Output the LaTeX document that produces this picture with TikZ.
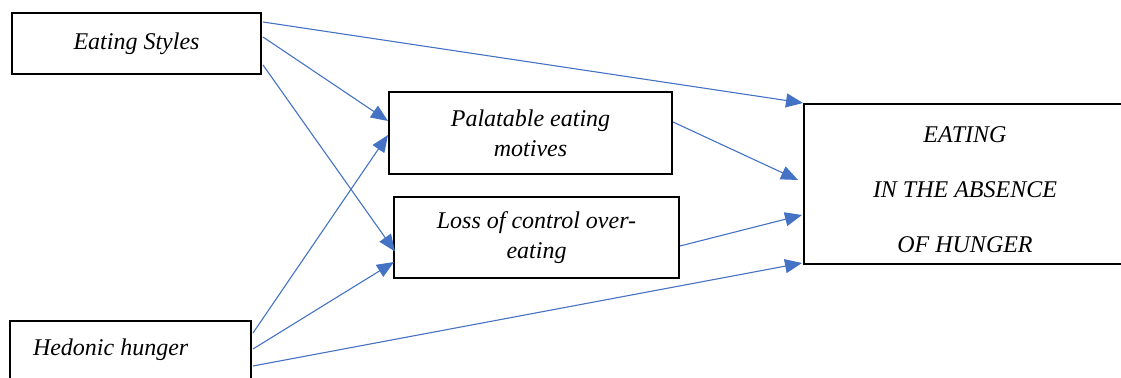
\documentclass[tikz,border=0pt]{standalone}
\usepackage{fontspec}
\setmainfont{Liberation Serif}
\usetikzlibrary{positioning, arrows.meta, calc}
\definecolor{linkblue}{HTML}{4472C4}

\begin{document}
\begin{tikzpicture}
    [
        x=0.5pt, y=-0.5pt,
        block/.style={draw, rectangle, line width=1pt, inner sep=0pt, align=center,
            font=\fontsize{12}{14.8}\selectfont\itshape},
        link/.style={color=linkblue, line width=0.55pt, -{Triangle[length=8.5pt, width=7pt]}}
    ]
        \path [use as bounding box, clip] (0,0) rectangle (1121,378);
        % =========================================================================
        % NODES
        % =========================================================================
        % --- Left column ---
        \node [block, minimum width=124.5pt, minimum height=30.5pt] (styles) at (136.5,43.5) {Eating Styles};
        \node [block, minimum height=29pt, inner xsep=11.5pt] (hedonic) at (130.5,350) {\makebox[97.5pt][l]{Hedonic hunger}};
        % --- Middle column ---
        \node [block, minimum width=141.5pt, minimum height=41pt] (palat) at (530.5,133) {Palatable eating\\motives};
        \node [block, minimum width=142.5pt, minimum height=40.5pt] (loss) at (536.5,237.5) {Loss of control over-\\eating};
        % --- Right column ---
        \node [block, minimum width=161pt, minimum height=80pt,
            font=\fontsize{12}{27.5}\selectfont\itshape] (eah) at (965,184) {\rule{0pt}{13.5pt}EATING\\IN THE ABSENCE\\OF HUNGER};

        % =========================================================================
        % PATHS
        % =========================================================================
        % --- From eating styles ---
        \draw [link] ($(styles.east)+(1,-21.5)$) -- (eah.north west);
        \draw [link] ($(styles.east)+(1,-6.5)$) -- ($(palat.west)+(0,-12)$);
        \draw [link] ($(styles.east)+(1,21.5)$) -- ($(loss.west)+(2,14)$);
        % --- From mediators ---
        \draw [link] ($(palat.east)+(0,-11)$) -- ($(eah.west)+(-5,-4)$);
        \draw [link] ($(loss.east)+(0,8.5)$) -- ($(eah.west)+(-1,31)$);
        % --- From hedonic hunger ---
        \draw [link] ($(hedonic.east)+(1,-17)$) -- ($(palat.west)+(0,2)$);
        \draw [link] ($(hedonic.east)+(1,-1)$) -- ($(loss.west)+(1,24.5)$);
        \draw [link] ($(hedonic.east)+(1,16)$) -- ($(eah.south west)+(-1,-2)$);

    \end{tikzpicture}
\end{document}
